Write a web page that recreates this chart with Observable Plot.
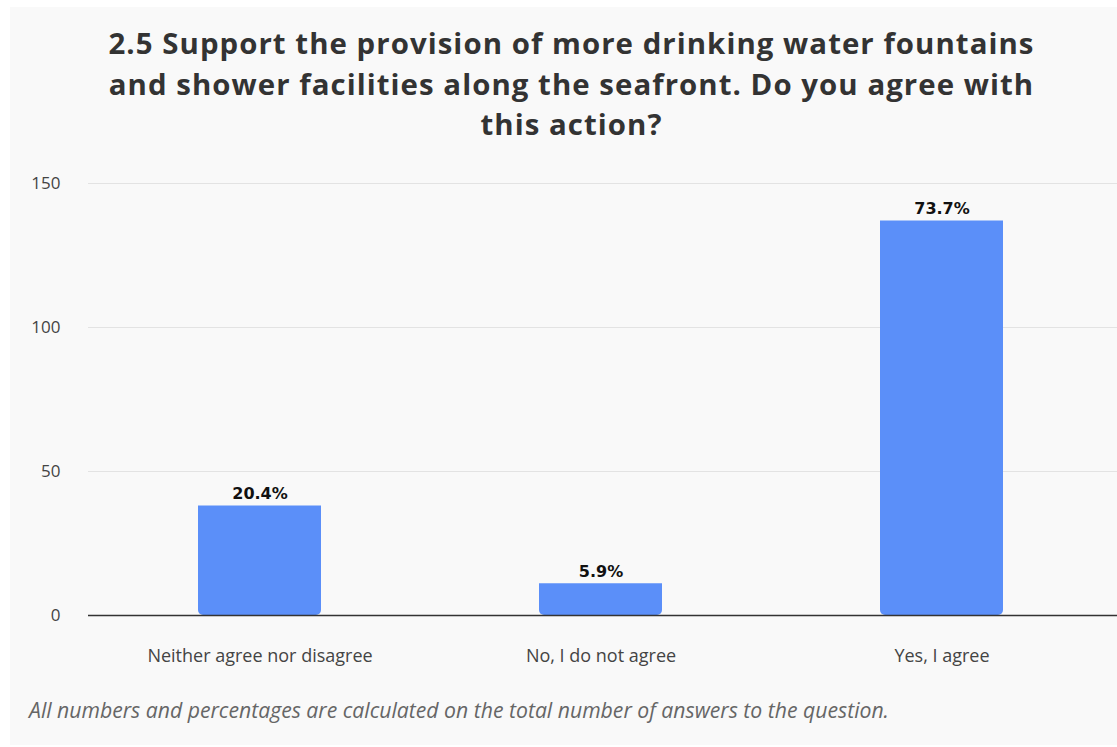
<!DOCTYPE html>
<html>
<head>
<meta charset="utf-8">
<script src="https://cdn.jsdelivr.net/npm/d3@7"></script>
<script src="https://cdn.jsdelivr.net/npm/@observablehq/plot@0.6"></script>
<style>
  html, body { margin: 0; padding: 0; background: #ffffff; }
  body { width: 1117px; height: 747px; position: relative; overflow: hidden; font-family: "Open Sans", sans-serif; }
  #card { position: absolute; left: 10px; top: 7px; width: 1107px; height: 738px; background: #f9f9f9; }
  #title { position: absolute; left: 10px; top: 23px; width: 1123px; text-align: center; font-weight: 700; font-size: 29.4px; letter-spacing: 1.05px; color: #333333; }
  #title div { height: 40.5px; line-height: 40.5px; }
  #chart { position: absolute; left: 0; top: 160px; }
  #caption { position: absolute; left: 29px; top: 695px; font-style: italic; font-size: 21.2px; color: #666666; }
</style>
</head>
<body>
<div id="card"></div>
<div id="title"><div>2.5 Support the provision of more drinking water fountains</div><div>and shower facilities along the seafront. Do you agree with</div><div>this action?</div></div>
<div id="chart"></div>
<div id="caption">All numbers and percentages are calculated on the total number of answers to the question.</div>
<script>
const categories = ["Neither agree nor disagree", "No, I do not agree", "Yes, I agree"];
const counts = [38, 11, 137];
const percentLabels = ["20.4%", "5.9%", "73.7%"];
const yTicks = [0, 50, 100, 150];

const data = categories.map((c, i) => ({category: c, count: counts[i], label: percentLabels[i]}));

const chart = Plot.plot({
  width: 1117,
  height: 515,
  marginLeft: 88,
  marginRight: 5,
  marginTop: 23,
  marginBottom: 60,
  style: {background: "transparent", fontFamily: "'Open Sans', sans-serif"},
  x: {domain: categories, paddingInner: 0.64, paddingOuter: 0.32, label: null},
  y: {domain: [0, 150], label: null},
  marks: [
    Plot.ruleY(yTicks.filter(d => d > 0), {stroke: "#e3e3e3", strokeWidth: 1.2, insetRight: -5}),
    Plot.axisY(yTicks, {tickSize: 0, tickPadding: 28, fontSize: 17, fill: "#444444", textAnchor: "end"}),
    Plot.axisX({tickSize: 0, tickPadding: 34, fontSize: 18, fill: "#444444"}),
    Plot.barY(data, {x: "category", y: "count", fill: "#5B8FF9", ry2: 5, rx2y2: 5, rx1y2: 5}),
    Plot.ruleY([0], {stroke: "#333333", strokeWidth: 1.3, insetRight: -5}),
    Plot.text(data, {x: "category", y: "count", text: "label", dy: -12, fontSize: 16, fontWeight: "bold", fill: "#111111", fontFamily: "'DejaVu Sans', sans-serif"})
  ]
});
document.getElementById("chart").appendChild(chart);
</script>
</body>
</html>
